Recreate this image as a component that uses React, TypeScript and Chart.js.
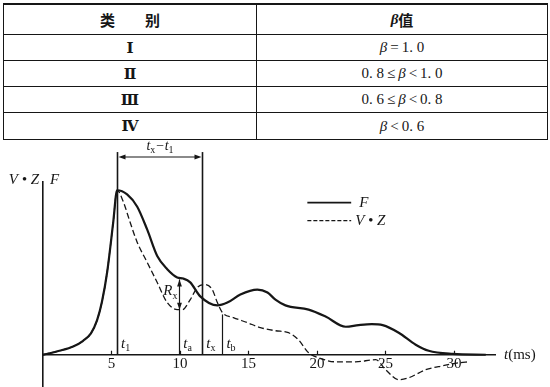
import React, { useEffect, useRef } from "react";
import { Chart, registerables } from "chart.js";

Chart.register(...registerables);

// ---------- table data ----------
const tableHeaders = ["类　　别", "β值"];
const tableCategories = ["Ⅰ", "Ⅱ", "Ⅲ", "Ⅳ"];
const tableBetaRanges = ["β=1. 0", "0. 8≤β<1. 0", "0. 6≤β<0. 8", "β<0. 6"];

// ---------- chart data ----------
const xTickValues = [5, 10, 15, 20, 25, 30];
const yTickValues = [0];

// F curve (solid)
const fTime = [0, 1.2, 2.2, 2.93, 3.5, 3.95, 4.3, 4.68, 5.12, 5.41, 6.14, 6.88, 7.61, 8.34, 9.07, 9.8, 10.24, 10.75, 11.48, 12.73, 13.46, 14.41, 15.65, 16.39, 16.97, 17.7, 19.39, 20.63, 22.1, 23.04, 24.0, 24.8, 25.97, 27.21, 28.16, 29.92, 32.33];
const fValue = [0, 2.4, 5, 8.5, 13, 21, 32, 50, 80, 100, 97.5, 90, 76, 60, 52, 47, 46.3, 44, 35.5, 30, 31.7, 36.6, 39.6, 37.8, 33.5, 30, 27.4, 23.2, 17, 18.0, 18.6, 18.0, 13.4, 6.1, 2.4, 0.5, 0];

// V·Z curve (dashed)
const vzTime = [0, 1.2, 2.2, 2.93, 3.5, 3.95, 4.3, 4.68, 5.12, 5.41, 5.85, 6.36, 6.88, 7.61, 8.34, 9.07, 9.8, 10.17, 10.75, 11.27, 11.85, 12.36, 12.73, 13.1, 13.9, 14.92, 15.87, 16.97, 17.92, 18.65, 19.39, 20.12, 21.36, 22.82, 24.29, 25.02, 25.97, 26.7, 27.94, 29.19, 30.36, 31.09];
const vzValue = [0, 2.4, 5, 8.5, 13, 21, 32, 50, 80, 100, 93.3, 80.5, 68.3, 56.1, 43.9, 31.7, 27.4, 27.4, 33.5, 40.9, 42.7, 39.6, 31.7, 25.6, 22.6, 19.5, 16.5, 14.6, 13.4, 9.1, 1.2, -1.8, -4.3, -4.3, -3, -9.1, -15.2, -14, -9.1, -6.7, -4.9, -4.3];

// marker times and heights
const markerNames = ["1", "a", "x", "b"];
const markerTimes = [5.41, 9.95, 11.63, 13.1];
const markerTops = [123.2, 45.8, 123.2, 24.5];
const rxBottom = 27.4;
const bracketLevel = 120.2;
const bracketLabelLevel = 126.5;
const markerLabelLevel = 6.5;
const rxLabelLevel = 38.5;
const legendStart = 19.3;
const legendEnd = 22.5;
const legendLevels = [92.5, 81.5];
const legendLabels = ["F", "V • Z"];

const INK = "#161616";
const SERIF = '"Liberation Serif", "DejaVu Serif", serif';

type Part = [string, boolean];

function drawRich(ctx: CanvasRenderingContext2D, parts: Part[], x: number, y: number, size: number, align: "left" | "center" | "right", italicMain = true) {
  const mainFont = `${italicMain ? "italic " : ""}${size}px ${SERIF}`;
  const subFont = `${Math.round(size * 0.68)}px ${SERIF}`;
  let total = 0;
  const widths: number[] = [];
  for (const [t, sub] of parts) {
    ctx.font = sub ? subFont : mainFont;
    const w = ctx.measureText(t).width;
    widths.push(w);
    total += w;
  }
  let cx = align === "left" ? x : align === "center" ? x - total / 2 : x - total;
  ctx.textAlign = "left";
  ctx.textBaseline = "middle";
  parts.forEach(([t, sub], i) => {
    ctx.font = sub ? subFont : mainFont;
    ctx.fillText(t, cx, sub ? y + size * 0.3 : y);
    cx += widths[i];
  });
}

function arrowHead(ctx: CanvasRenderingContext2D, tx: number, ty: number, dx: number, dy: number, len = 7, half = 2.6) {
  const bx = tx - dx * len;
  const by = ty - dy * len;
  const px = -dy * half;
  const py = dx * half;
  ctx.beginPath();
  ctx.moveTo(tx, ty);
  ctx.lineTo(bx + px, by + py);
  ctx.lineTo(bx - px, by - py);
  ctx.closePath();
  ctx.fill();
}

const annotatePlugin = {
  id: "annotate",
  afterDatasetsDraw(chart: any) {
    const { ctx, scales } = chart;
    const xs = scales.x;
    const ys = scales.y;
    const px = (t: number) => xs.getPixelForValue(t);
    const py = (v: number) => ys.getPixelForValue(v);
    ctx.save();
    ctx.strokeStyle = INK;
    ctx.fillStyle = INK;

    // small upward tick marks on the time axis
    ctx.lineWidth = 1.2;
    xs.ticks.forEach((tk: any) => {
      const x = Math.round(px(tk.value)) + 0.5;
      ctx.beginPath();
      ctx.moveTo(x, py(0));
      ctx.lineTo(x, py(0) - 4);
      ctx.stroke();
    });

    // vertical marker lines
    markerTimes.forEach((t, i) => {
      ctx.lineWidth = i === 0 || i === 2 ? 1.6 : 1.2;
      ctx.beginPath();
      ctx.moveTo(Math.round(px(t)) + 0.5, py(0));
      ctx.lineTo(Math.round(px(t)) + 0.5, py(markerTops[i]));
      ctx.stroke();
      drawRich(ctx, [["t", false], [markerNames[i], true]], px(t) + 4, py(markerLabelLevel), 15, "left");
    });

    // bracket tx - t1
    const bx1 = Math.round(px(markerTimes[0])) + 0.5;
    const bx2 = Math.round(px(markerTimes[2])) + 0.5;
    const by = py(bracketLevel);
    ctx.lineWidth = 1.2;
    ctx.beginPath();
    ctx.moveTo(bx1 + 4, by);
    ctx.lineTo(bx2 - 4, by);
    ctx.stroke();
    arrowHead(ctx, bx1 + 1, by, -1, 0);
    arrowHead(ctx, bx2 - 1, by, 1, 0);
    drawRich(ctx, [["t", false], ["x", true], ["−t", false], ["1", true]], (bx1 + bx2) / 2, py(bracketLabelLevel), 14, "center");

    // R_x double arrow
    const ax = Math.round(px(markerTimes[1])) + 0.5;
    arrowHead(ctx, ax, py(markerTops[1]), 0, -1, 7, 2.4);
    arrowHead(ctx, ax, py(rxBottom), 0, 1, 7, 2.4);
    drawRich(ctx, [["R", false], ["x", true]], ax - 2, py(rxLabelLevel), 15, "right");

    // axis labels
    const axisX = xs.left;
    drawRich(ctx, [["V • Z", false]], axisX - 4, ys.top - 2, 15, "right");
    drawRich(ctx, [["F", false]], axisX + 7, ys.top - 2, 15, "left");
    const tx0 = xs.right + 9;
    ctx.textBaseline = "middle";
    ctx.textAlign = "left";
    ctx.font = `italic 15px ${SERIF}`;
    ctx.fillText("t", tx0, py(0));
    const tw = ctx.measureText("t").width;
    ctx.font = `15px ${SERIF}`;
    ctx.fillText("(ms)", tx0 + tw, py(0));

    // legend
    legendLevels.forEach((lv, i) => {
      ctx.lineWidth = i === 0 ? 1.8 : 1.2;
      ctx.setLineDash(i === 0 ? [] : [4, 2]);
      ctx.beginPath();
      ctx.moveTo(px(legendStart), py(lv));
      ctx.lineTo(px(legendEnd), py(lv));
      ctx.stroke();
      ctx.setLineDash([]);
      drawRich(ctx, [[legendLabels[i], false]], px(legendEnd) + (i === 0 ? 8 : 4), py(lv), 15, "left");
    });

    ctx.restore();
  },
};

function zeroPadding(s: any) {
  s.paddingTop = 0;
  s.paddingBottom = 0;
  s.paddingLeft = 0;
  s.paddingRight = 0;
}

function ChartBlock() {
  const ref = useRef<HTMLCanvasElement | null>(null);
  useEffect(() => {
    if (!ref.current) return;
    const chart = new Chart(ref.current, {
      type: "line",
      data: {
        datasets: [
          {
            label: "F",
            data: fTime.map((t, i) => ({ x: t, y: fValue[i] })),
            borderColor: INK,
            borderWidth: 2.2,
            pointRadius: 0,
            fill: false,
            cubicInterpolationMode: "monotone",
          },
          {
            label: "V • Z",
            data: vzTime.map((t, i) => ({ x: t, y: vzValue[i] })),
            borderColor: INK,
            borderWidth: 1.3,
            borderDash: [6, 3],
            pointRadius: 0,
            fill: false,
            cubicInterpolationMode: "monotone",
          },
        ],
      },
      options: {
        animation: false,
        responsive: false,
        layout: { padding: { left: 43, right: 55, top: 42, bottom: 1 } },
        plugins: { legend: { display: false }, tooltip: { enabled: false } },
        scales: {
          x: {
            type: "linear",
            min: 0,
            max: 33,
            position: { y: 0 } as any,
            grid: { display: false, drawTicks: false },
            border: { display: true, color: INK, width: 1.6 },
            ticks: {
              color: INK,
              font: { family: SERIF, size: 15 },
              padding: 0,
              autoSkip: false,
              maxRotation: 0,
            },
            afterBuildTicks: (s: any) => {
              s.ticks = xTickValues.map((v) => ({ value: v }));
            },
            afterFit: (s: any) => {
              s.height = 0;
              zeroPadding(s);
            },
          } as any,
          y: {
            type: "linear",
            min: -19,
            max: 105,
            grid: { display: false, drawTicks: false },
            border: { display: true, color: INK, width: 1.6 },
            ticks: { color: INK, font: { family: SERIF, size: 15 }, padding: 2 },
            afterBuildTicks: (s: any) => {
              s.ticks = yTickValues.map((v) => ({ value: v }));
            },
            afterFit: (s: any) => {
              s.width = 0;
              zeroPadding(s);
            },
          } as any,
        },
      },
      plugins: [annotatePlugin],
    });
    return () => chart.destroy();
  }, []);
  return <canvas ref={ref} width={550} height={247} style={{ display: "block" }} />;
}

function renderCell(text: string, header: boolean) {
  const out: React.ReactNode[] = [];
  Array.from(text).forEach((ch, k) => {
    if (ch === "β") {
      out.push(<i key={k} style={{ fontWeight: header ? 700 : 400 }}>β</i>);
    } else if (!header && (ch === "=" || ch === "≤" || ch === "<")) {
      out.push(<span key={k} style={{ margin: "0 3px" }}>{ch}</span>);
    } else {
      out.push(<React.Fragment key={k}>{ch}</React.Fragment>);
    }
  });
  return out;
}

export default function App() {
  useEffect(() => {
    document.body.style.margin = "0";
    document.body.style.background = "#fff";
  }, []);
  const font = '"Liberation Serif", "Noto Sans CJK SC", serif';
  const rows = [tableHeaders].concat(tableCategories.map((c, i) => [c, tableBetaRanges[i]]));
  return (
    <div style={{ position: "relative", width: 550, height: 387, background: "#fff", overflow: "hidden" }}>
      <div
        style={{
          position: "absolute",
          left: 3,
          top: 3,
          width: 545,
          borderTop: `2px solid ${INK}`,
          borderBottom: `1.5px solid ${INK}`,
          borderLeft: `1px solid ${INK}`,
          borderRight: `1px solid ${INK}`,
          boxSizing: "border-box",
          fontFamily: font,
          color: INK,
        }}
      >
        {rows.map((row, r) => (
          <div key={r} style={{ display: "flex", height: r === 0 ? 30 : 26, borderBottom: r < 4 ? `1px solid ${INK}` : "none", boxSizing: "border-box" }}>
            {row.map((cell, c) => (
              <div
                key={c}
                style={{
                  width: c === 0 ? 253 : 290,
                  borderRight: c === 0 ? `1px solid ${INK}` : "none",
                  display: "flex",
                  alignItems: "center",
                  justifyContent: "center",
                  fontSize: 15,
                  fontWeight: r === 0 || c === 0 ? 700 : 400,
                  fontFamily: r > 0 && c === 0 ? '"DejaVu Serif", "Liberation Serif", serif' : font,
                  whiteSpace: "pre",
                  boxSizing: "border-box",
                }}
              >
                {renderCell(cell, r === 0)}
              </div>
            ))}
          </div>
        ))}
      </div>
      <div style={{ position: "absolute", left: 0, top: 140, width: 550, height: 247 }}>
        <ChartBlock />
      </div>
    </div>
  );
}
